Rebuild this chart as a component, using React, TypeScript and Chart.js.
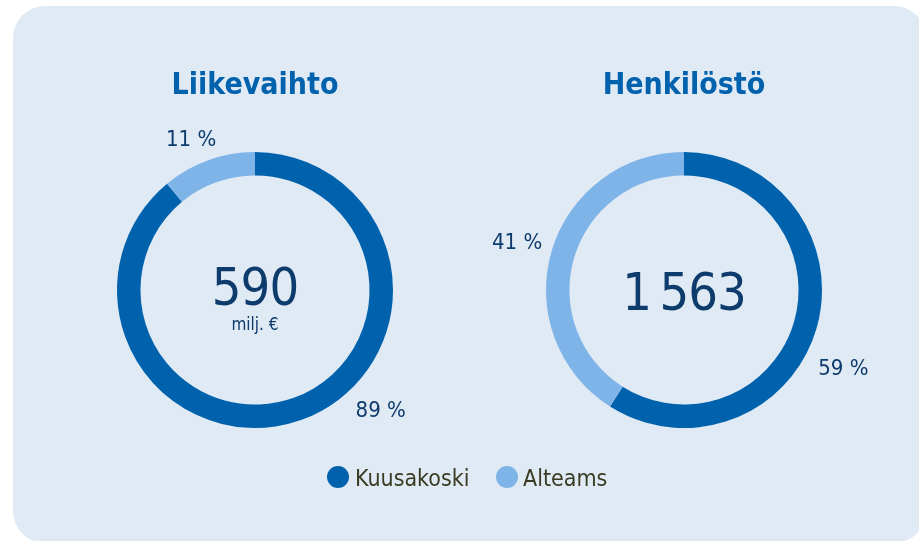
import React, { useEffect, useRef } from "react";
import { Chart, registerables } from "chart.js";

Chart.register(...registerables);

// ---- data ----
const categories = ["Kuusakoski", "Alteams"];
const revenueShares = [89, 11];
const staffShares = [59, 41];
const chartTitles = ["Liikevaihto", "Henkilöstö"];
const centerValues = ["590", "1\u2009563"];
const centerUnits = ["milj. €", ""];

// ---- style ----
const COLORS = ["#0061ad", "#7eb4e8"];
const TITLE_COLOR = "#0061ad";
const TEXT_COLOR = "#0d3b6c";
const LEGEND_TEXT = "#3a3b22";
const CARD_BG = "#e0eaf5";
const NARROW = '"Liberation Sans Narrow", "DejaVu Sans Condensed", "Noto Sans", sans-serif';

const donutText = {
  id: "donutText",
  afterDatasetsDraw(chart: any, _args: any, opts: any) {
    const ctx = chart.ctx as CanvasRenderingContext2D;
    const meta = chart.getDatasetMeta(0);
    const first = meta.data[0] as any;
    const cx = first.x;
    const cy = first.y;
    const values = chart.data.datasets[0].data as number[];
    ctx.save();
    ctx.textAlign = "center";
    ctx.textBaseline = "alphabetic";

    // title
    ctx.fillStyle = TITLE_COLOR;
    ctx.font = `bold 30px ${NARROW}`;
    ctx.fillText(opts.title, cx, cy - 196);

    // centre value
    ctx.fillStyle = TEXT_COLOR;
    ctx.font = `52px ${NARROW}`;
    (ctx as any).letterSpacing = "-1px";
    ctx.fillText(opts.value, cx, cy + opts.valueDy);
    (ctx as any).letterSpacing = "0px";
    if (opts.unit) {
      ctx.font = `17px ${NARROW}`;
      ctx.fillText(opts.unit, cx, cy + 40);
    }

    // percentage labels
    ctx.font = `22px ${NARROW}`;
    values.forEach((v, i) => {
      const [angDeg, r] = opts.labelPolar[i];
      const a = (angDeg * Math.PI) / 180;
      const lx = cx + r * Math.sin(a);
      const ly = cy - r * Math.cos(a);
      ctx.fillText(`${v} %`, lx, ly + 8);
    });
    ctx.restore();
  },
};

function Donut(props: {
  data: number[];
  title: string;
  value: string;
  unit: string;
  valueDy: number;
  labelPolar: [number, number][];
  left: number;
}) {
  const ref = useRef<HTMLCanvasElement>(null);
  useEffect(() => {
    if (!ref.current) return;
    const chart = new Chart(ref.current, {
      type: "doughnut",
      data: {
        labels: categories,
        datasets: [
          {
            data: props.data,
            backgroundColor: COLORS,
            borderWidth: 0,
          },
        ],
      },
      options: {
        responsive: false,
        animation: false,
        events: [],
        cutout: "83%",
        layout: { padding: { left: 62, right: 62, top: 152, bottom: 113 } },
        plugins: {
          legend: { display: false },
          tooltip: { enabled: false },
          donutText: {
            title: props.title,
            value: props.value,
            unit: props.unit,
            valueDy: props.valueDy,
            labelPolar: props.labelPolar,
          },
        } as any,
      },
      plugins: [donutText],
    });
    return () => chart.destroy();
  }, []);
  return (
    <canvas
      ref={ref}
      width={400}
      height={541}
      style={{ position: "absolute", left: props.left, top: 0, width: 400, height: 541 }}
    />
  );
}

export default function App() {
  const legendItems = [
    { x: 338, tx: 355 },
    { x: 507, tx: 523 },
  ];
  return (
    <div
      style={{
        position: "absolute",
        left: 0,
        top: 0,
        width: 919,
        height: 541,
        overflow: "hidden",
        background: "#ffffff",
      }}
    >
      <div
        style={{
          position: "absolute",
          left: 13,
          top: 6,
          width: 913,
          height: 537,
          borderRadius: 32,
          background: CARD_BG,
        }}
      />
      <Donut
        data={revenueShares}
        title={chartTitles[0]}
        value={centerValues[0]}
        unit={centerUnits[0]}
        valueDy={15}
        labelPolar={[
          [133.4, 173],
          [337.2, 165],
        ]}
        left={55}
      />
      <Donut
        data={staffShares}
        title={chartTitles[1]}
        value={centerValues[1]}
        unit={centerUnits[1]}
        valueDy={20}
        labelPolar={[
          [115.8, 177],
          [286.4, 174],
        ]}
        left={484}
      />
      {categories.map((c, i) => (
        <React.Fragment key={c}>
          <div
            style={{
              position: "absolute",
              left: legendItems[i].x - 11,
              top: 466,
              width: 22,
              height: 22,
              borderRadius: "50%",
              background: COLORS[i],
            }}
          />
          <div
            style={{
              position: "absolute",
              left: legendItems[i].tx,
              top: 467,
              fontFamily: NARROW,
              fontSize: 23,
              lineHeight: "23px",
              color: LEGEND_TEXT,
              whiteSpace: "nowrap",
            }}
          >
            {c}
          </div>
        </React.Fragment>
      ))}
    </div>
  );
}
